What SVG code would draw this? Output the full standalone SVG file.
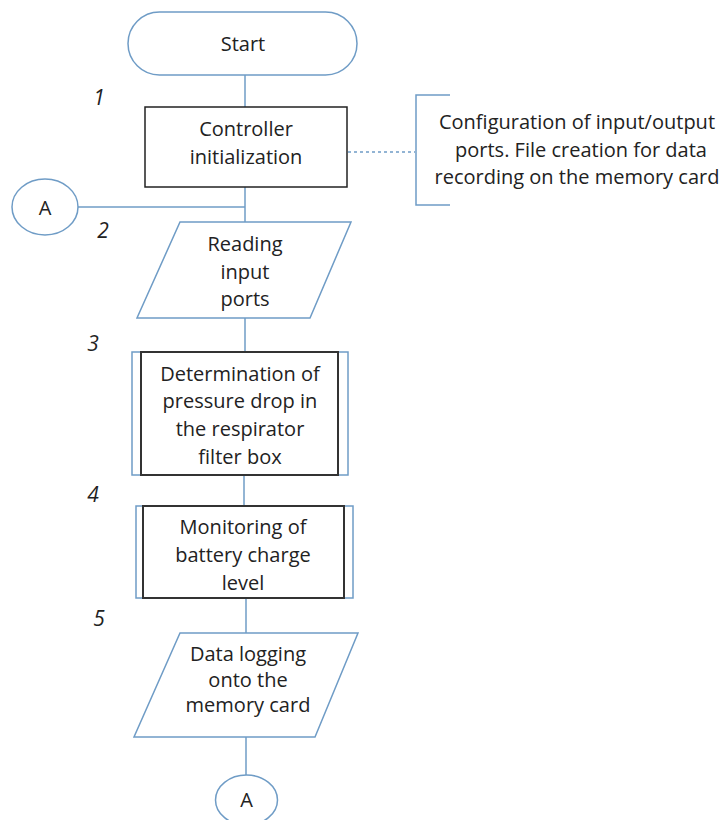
<svg xmlns="http://www.w3.org/2000/svg" width="726" height="820" viewBox="0 0 726 820">
<style>
.bl{fill:#fff;stroke:#6f9cc6;stroke-width:1.5}
.dk{fill:none;stroke:#333;stroke-width:2}
.ln{fill:none;stroke:#6f9cc6;stroke-width:1.5}
.t{font-family:"Open Sans","Liberation Sans",sans-serif;font-size:20px;fill:#222;text-anchor:middle;dominant-baseline:central}
.n{font-family:"Open Sans","Liberation Sans",sans-serif;font-size:21px;font-style:italic;fill:#222;text-anchor:middle;dominant-baseline:central}
</style>
<rect width="726" height="820" fill="#fff"/>
<g id="connectors">
<line class="ln" x1="245" y1="75" x2="245" y2="107"/>
<line class="ln" x1="245" y1="187" x2="245" y2="222"/>
<line class="ln" x1="78" y1="207" x2="245" y2="207"/>
<line class="ln" x1="245" y1="318" x2="245" y2="352"/>
<line class="ln" x1="244" y1="475" x2="244" y2="506"/>
<line class="ln" x1="246" y1="598" x2="246" y2="633"/>
<line class="ln" x1="246" y1="737" x2="246" y2="775"/>
<line class="ln" x1="348" y1="152" x2="415" y2="152" stroke-dasharray="3,3"/>
<polyline class="ln" points="450,95 416,95 416,205 450,205"/>
</g>
<g id="start">
<rect class="bl" x="128" y="12" width="229" height="63" rx="31.5"/>
<text class="t" x="243" y="43">Start</text>
</g>
<g id="controller">
<rect fill="#fff" stroke="#222" stroke-width="1.5" x="145" y="107" width="202" height="80"/>
<text class="t" x="246" y="128">Controller</text>
<text class="t" x="246" y="156">initialization</text>
</g>
<g id="note">
<text class="t" x="577" y="121">Configuration of input/output</text>
<text class="t" x="581" y="149">ports.  File creation for data</text>
<text class="t" x="577" y="176">recording on the memory card</text>
</g>
<g id="connectorA1">
<ellipse class="bl" cx="45" cy="207" rx="33" ry="28"/>
<text class="t" x="45" y="207">A</text>
</g>
<g id="reading">
<polygon class="bl" points="180,222 351,222 310,318 137,318"/>
<text class="t" x="245" y="243">Reading</text>
<text class="t" x="245" y="271">input</text>
<text class="t" x="245" y="298">ports</text>
</g>
<g id="pressure">
<rect class="bl" x="132" y="352" width="216" height="123"/>
<rect class="dk" x="141" y="352" width="197" height="123"/>
<text class="t" x="240" y="373">Determination of</text>
<text class="t" x="240" y="400">pressure drop in</text>
<text class="t" x="240" y="428">the respirator</text>
<text class="t" x="240" y="456">filter box</text>
</g>
<g id="battery">
<rect class="bl" x="136" y="506" width="217" height="92"/>
<rect class="dk" x="143" y="506" width="201" height="92"/>
<text class="t" x="243" y="526">Monitoring of</text>
<text class="t" x="243" y="554">battery charge</text>
<text class="t" x="243" y="582">level</text>
</g>
<g id="logging">
<polygon class="bl" points="180,633 358,633 315,737 134,737"/>
<text class="t" x="248" y="653">Data logging</text>
<text class="t" x="248" y="679">onto the</text>
<text class="t" x="248" y="704">memory card</text>
</g>
<g id="connectorA2">
<ellipse class="bl" cx="246.5" cy="800" rx="31" ry="25"/>
<text class="t" x="246.5" y="799">A</text>
</g>
<g id="labels">
<text class="n" x="99" y="97">1</text>
<text class="n" x="103" y="230">2</text>
<text class="n" x="93" y="343">3</text>
<text class="n" x="93" y="494">4</text>
<text class="n" x="99" y="618">5</text>
</g>
</svg>
